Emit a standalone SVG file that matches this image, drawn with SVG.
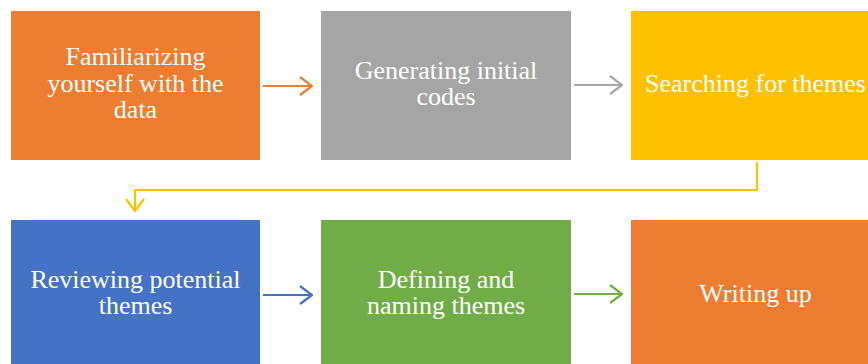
<svg xmlns="http://www.w3.org/2000/svg" width="868" height="364" viewBox="0 0 868 364">
<style>
text{font-family:"Liberation Serif","Times New Roman",serif;font-size:26px;fill:#fff;text-anchor:middle}
.c{fill:none;stroke-width:2.2}
</style>
<defs>
<marker id="m" viewBox="0 0 14 20" refX="13" refY="10" markerWidth="14" markerHeight="20" markerUnits="userSpaceOnUse" orient="auto"><path d="M1,1 L13,10 L1,19" fill="none" stroke="context-stroke" stroke-width="2.2"/></marker>
</defs>
<rect width="868" height="364" fill="#fff"/>
<g id="n1"><rect x="11" y="11" width="249" height="149" fill="#ED7D31"/><text x="135.5" y="65">Familiarizing</text><text x="135.5" y="92">yourself with the</text><text x="135.5" y="118">data</text></g>
<g id="n2"><rect x="321" y="11" width="250" height="149" fill="#A5A5A5"/><text x="446" y="79">Generating initial</text><text x="446" y="105">codes</text></g>
<g id="n3"><rect x="631" y="11" width="249" height="149" fill="#FFC000"/><text x="755.5" y="92">Searching for themes</text></g>
<g id="n4"><rect x="11" y="220" width="249" height="149" fill="#4472C4"/><text x="135.5" y="288">Reviewing potential</text><text x="135.5" y="314">themes</text></g>
<g id="n5"><rect x="321" y="220" width="250" height="149" fill="#70AD47"/><text x="446" y="288">Defining and</text><text x="446" y="314">naming themes</text></g>
<g id="n6"><rect x="631" y="220" width="249" height="149" fill="#ED7D31"/><text x="755.5" y="302">Writing up</text></g>
<g id="connectors">
<path class="c" stroke="#ED7D31" d="M263,86 H312" marker-end="url(#m)"/>
<path class="c" stroke="#A5A5A5" d="M574,85 H622" marker-end="url(#m)"/>
<path class="c" stroke="#FFC000" d="M757,162 V190 H135 V211" marker-end="url(#m)"/>
<path class="c" stroke="#4472C4" d="M263,295 H312" marker-end="url(#m)"/>
<path class="c" stroke="#70AD47" d="M574,294 H622" marker-end="url(#m)"/>
</g>
</svg>
